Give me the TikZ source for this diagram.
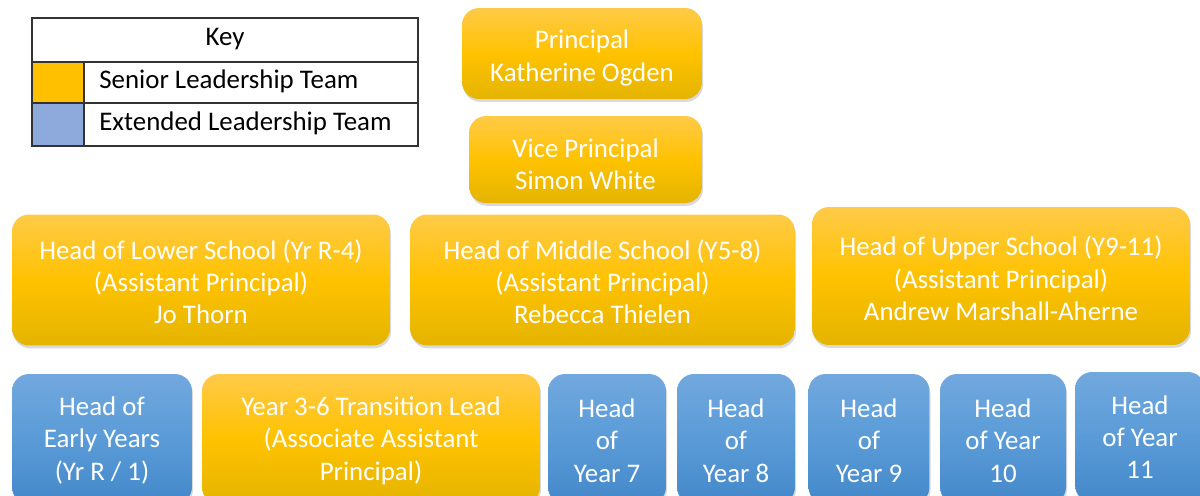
\documentclass[tikz,border=0pt]{standalone}
\usepackage{fontspec}
\setmainfont{Carlito}
\usetikzlibrary{shadows}
\definecolor{orTop}{RGB}{255,202,72}
\definecolor{orMid}{RGB}{255,194,0}
\definecolor{orBot}{RGB}{228,180,0}
\definecolor{blTop}{RGB}{114,168,222}
\definecolor{blMid}{RGB}{90,155,215}
\definecolor{blBot}{RGB}{68,136,202}
\definecolor{keyOr}{RGB}{255,192,0}
\definecolor{keyBl}{RGB}{142,169,219}
\tikzset{
  box/.style={rounded corners=0.34cm, inner sep=0pt,
    drop shadow={opacity=0.3, shadow xshift=0.6pt, shadow yshift=-1.6pt}},
  slt/.style={box, top color=orTop, bottom color=orBot, middle color=orMid},
  elt/.style={box, top color=blTop, bottom color=blBot, middle color=blMid},
  txt/.style={align=center, text=white, inner sep=0pt, font=\fontsize{15.3}{18.4}\selectfont},
  keytxt/.style={font=\fontsize{15.3}{16}\selectfont, text=black, inner sep=0pt},
}
\begin{document}
\begin{tikzpicture}[x=0.02cm, y=-0.02cm]
\useasboundingbox (0,0) rectangle (1200,495);
\clip (0,0) rectangle (1200,495);
% key
\fill[keyOr] (32,62) rectangle (84,103);
\fill[keyBl] (32,103) rectangle (84,146);
\draw[line width=0.6pt, black!80] (32,18) rectangle (418,146);
\draw[line width=0.6pt, black!80] (32,62) -- (418,62) (32,103) -- (418,103) (84,62) -- (84,146);
\node[keytxt] (keyt) at (225,39) {Key};
\node[keytxt, anchor=west] (keys) at (99,81) {Senior Leadership Team};
\node[keytxt, anchor=west] (keye) at (99,123) {Extended Leadership Team};
% top
\node[slt, minimum width=4.8cm, minimum height=1.82cm] (p) at (582,53.5) {};
\node[txt, yshift=-0.09cm] (pt) at (p) {Principal\\Katherine Ogden};
\node[slt, minimum width=4.66cm, minimum height=1.74cm] (vp) at (585.5,159.5) {};
\node[txt, yshift=-0.1cm] (vpt) at (vp) {Vice Principal\\Simon White};
% row 3
\node[slt, minimum width=7.56cm, minimum height=2.62cm] (low) at (201,280) {};
\node[txt, yshift=-0.035cm] (lowt) at (low) {Head of Lower School (Yr R-4)\\(Assistant Principal)\\Jo Thorn};
\node[slt, minimum width=7.7cm, minimum height=2.62cm] (mid) at (602.5,280) {};
\node[txt, yshift=-0.035cm] (midt) at (mid) {Head of Middle School (Y5-8)\\(Assistant Principal)\\Rebecca Thielen};
\node[slt, minimum width=7.56cm, minimum height=2.76cm] (up) at (1001,276) {};
\node[txt, yshift=-0.05cm] (upt) at (up) {Head of Upper School (Y9-11)\\(Assistant Principal)\\Andrew Marshall-Aherne};
% bottom row
\node[elt, minimum width=3.6cm, minimum height=2.6cm] (ey) at (102,439) {};
\node[txt, yshift=-0.03cm] (eyt) at (ey) {Head of\\Early Years\\(Yr R / 1)};
\node[slt, minimum width=6.76cm, minimum height=2.6cm] (tr) at (371,439) {};
\node[txt, yshift=-0.03cm] (trt) at (tr) {Year 3-6 Transition Lead\\(Associate Assistant\\Principal)};
\node[elt, minimum width=2.36cm, minimum height=2.6cm] (y7) at (607,439) {};
\node[txt, yshift=-0.03cm] (y7t) at (y7) {Head\\of\\Year 7};
\node[elt, minimum width=2.36cm, minimum height=2.6cm] (y8) at (736,439) {};
\node[txt, yshift=-0.03cm] (y8t) at (y8) {Head\\of\\Year 8};
\node[elt, minimum width=2.42cm, minimum height=2.6cm] (y9) at (869,439) {};
\node[txt, yshift=-0.03cm] (y9t) at (y9) {Head\\of\\Year 9};
\node[elt, minimum width=2.52cm, minimum height=2.6cm] (y10) at (1003,439) {};
\node[txt, yshift=-0.03cm] (y10t) at (y10) {Head\\of Year\\10};
\node[elt, minimum width=2.6cm, minimum height=2.6cm] (y11) at (1140,437) {};
\node[txt] (y11t) at (y11) {Head\\of Year\\11};
\end{tikzpicture}
\end{document}
